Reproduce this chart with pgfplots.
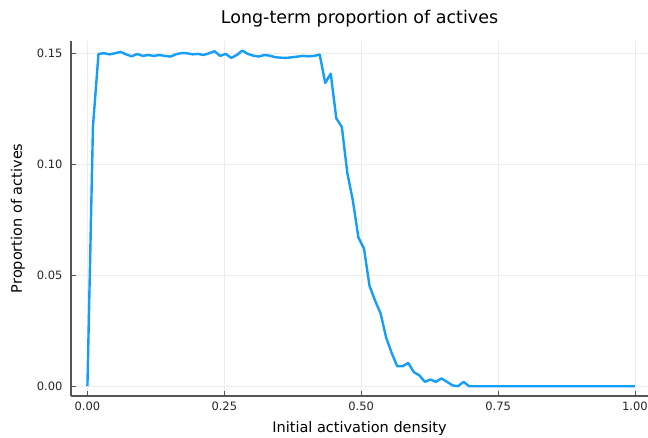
\documentclass[border=0pt]{standalone}
\usepackage{pgfplots}
\pgfplotsset{compat=1.18}
\usepackage{fontspec}
\setmainfont{DejaVu Sans}

\definecolor{series1}{RGB}{20,158,250}
\definecolor{spine}{RGB}{85,85,85}
\definecolor{gridc}{RGB}{236,236,236}

\pgfplotstableread{
x       y
0.0000  0.0000
0.0101  0.1170
0.0202  0.1497
0.0303  0.1500
0.0404  0.1495
0.0505  0.1500
0.0606  0.1506
0.0707  0.1495
0.0808  0.1486
0.0909  0.1497
0.1010  0.1488
0.1111  0.1492
0.1212  0.1488
0.1313  0.1492
0.1414  0.1488
0.1515  0.1485
0.1616  0.1495
0.1717  0.1501
0.1818  0.1500
0.1919  0.1495
0.2020  0.1497
0.2121  0.1492
0.2222  0.1500
0.2323  0.1509
0.2424  0.1488
0.2525  0.1497
0.2626  0.1479
0.2727  0.1492
0.2828  0.1512
0.2929  0.1497
0.3030  0.1489
0.3131  0.1485
0.3232  0.1492
0.3333  0.1489
0.3434  0.1482
0.3535  0.1480
0.3636  0.1479
0.3737  0.1482
0.3838  0.1485
0.3939  0.1488
0.4040  0.1486
0.4141  0.1488
0.4242  0.1494
0.4343  0.1366
0.4444  0.1408
0.4545  0.1207
0.4646  0.1168
0.4747  0.0960
0.4848  0.0836
0.4949  0.0670
0.5051  0.0620
0.5152  0.0452
0.5253  0.0386
0.5354  0.0328
0.5455  0.0220
0.5556  0.0150
0.5657  0.0090
0.5758  0.0090
0.5859  0.0105
0.5960  0.0064
0.6061  0.0049
0.6162  0.0020
0.6263  0.0030
0.6364  0.0020
0.6465  0.0035
0.6566  0.0020
0.6667  0.0004
0.6768  0.0000
0.6869  0.0020
0.6970  0.0000
0.7071  0.0000
0.7172  0.0000
0.7273  0.0000
0.7374  0.0000
0.7475  0.0000
0.7576  0.0000
0.7677  0.0000
0.7778  0.0000
0.7879  0.0000
0.7980  0.0000
0.8081  0.0000
0.8182  0.0000
0.8283  0.0000
0.8384  0.0000
0.8485  0.0000
0.8586  0.0000
0.8687  0.0000
0.8788  0.0000
0.8889  0.0000
0.8990  0.0000
0.9091  0.0000
0.9192  0.0000
0.9293  0.0000
0.9394  0.0000
0.9495  0.0000
0.9596  0.0000
0.9697  0.0000
0.9798  0.0000
0.9899  0.0000
1.0000  0.0000
}\actives

\begin{document}
\begin{tikzpicture}
\begin{axis}[
  scale only axis,
  width=577pt, height=355.4pt,
  xmin=-0.03, xmax=1.0238,
  ymin=-0.0044, ymax=0.1557,
  axis x line*=bottom,
  axis y line*=left,
  axis line style={spine, line width=1.3pt},
  xtick={0,0.25,0.5,0.75,1},
  ytick={0,0.05,0.1,0.15},
  tick align=inside,
  major tick length=5pt,
  tick style={spine, line width=0.9pt},
  grid=major,
  major grid style={gridc, line width=0.6pt},
  /pgf/number format/assume math mode=true,
  /pgf/number format/fixed,
  /pgf/number format/fixed zerofill,
  /pgf/number format/precision=2,
  scaled y ticks=false,
  scaled x ticks=false,
  tick label style={font=\fontsize{11.5}{13}\selectfont, text=black!85},
  xticklabel style={yshift=-2pt},
  yticklabel style={xshift=-5pt},
  xlabel={Initial activation density},
  ylabel={Proportion of actives},
  label style={font=\fontsize{14.5}{16}\selectfont},
  xlabel style={yshift=-4pt},
  ylabel style={yshift=5pt},
  title={Long-term proportion of actives},
  title style={font=\fontsize{17.5}{20}\selectfont, yshift=4pt},
]
\addplot[series1, line width=2.4pt, line join=round] table[x=x, y=y] {\actives};
\end{axis}
\pgfresetboundingbox
\path[use as bounding box] (-71pt,-42pt) rectangle (577pt,396pt);
\end{tikzpicture}
\end{document}
